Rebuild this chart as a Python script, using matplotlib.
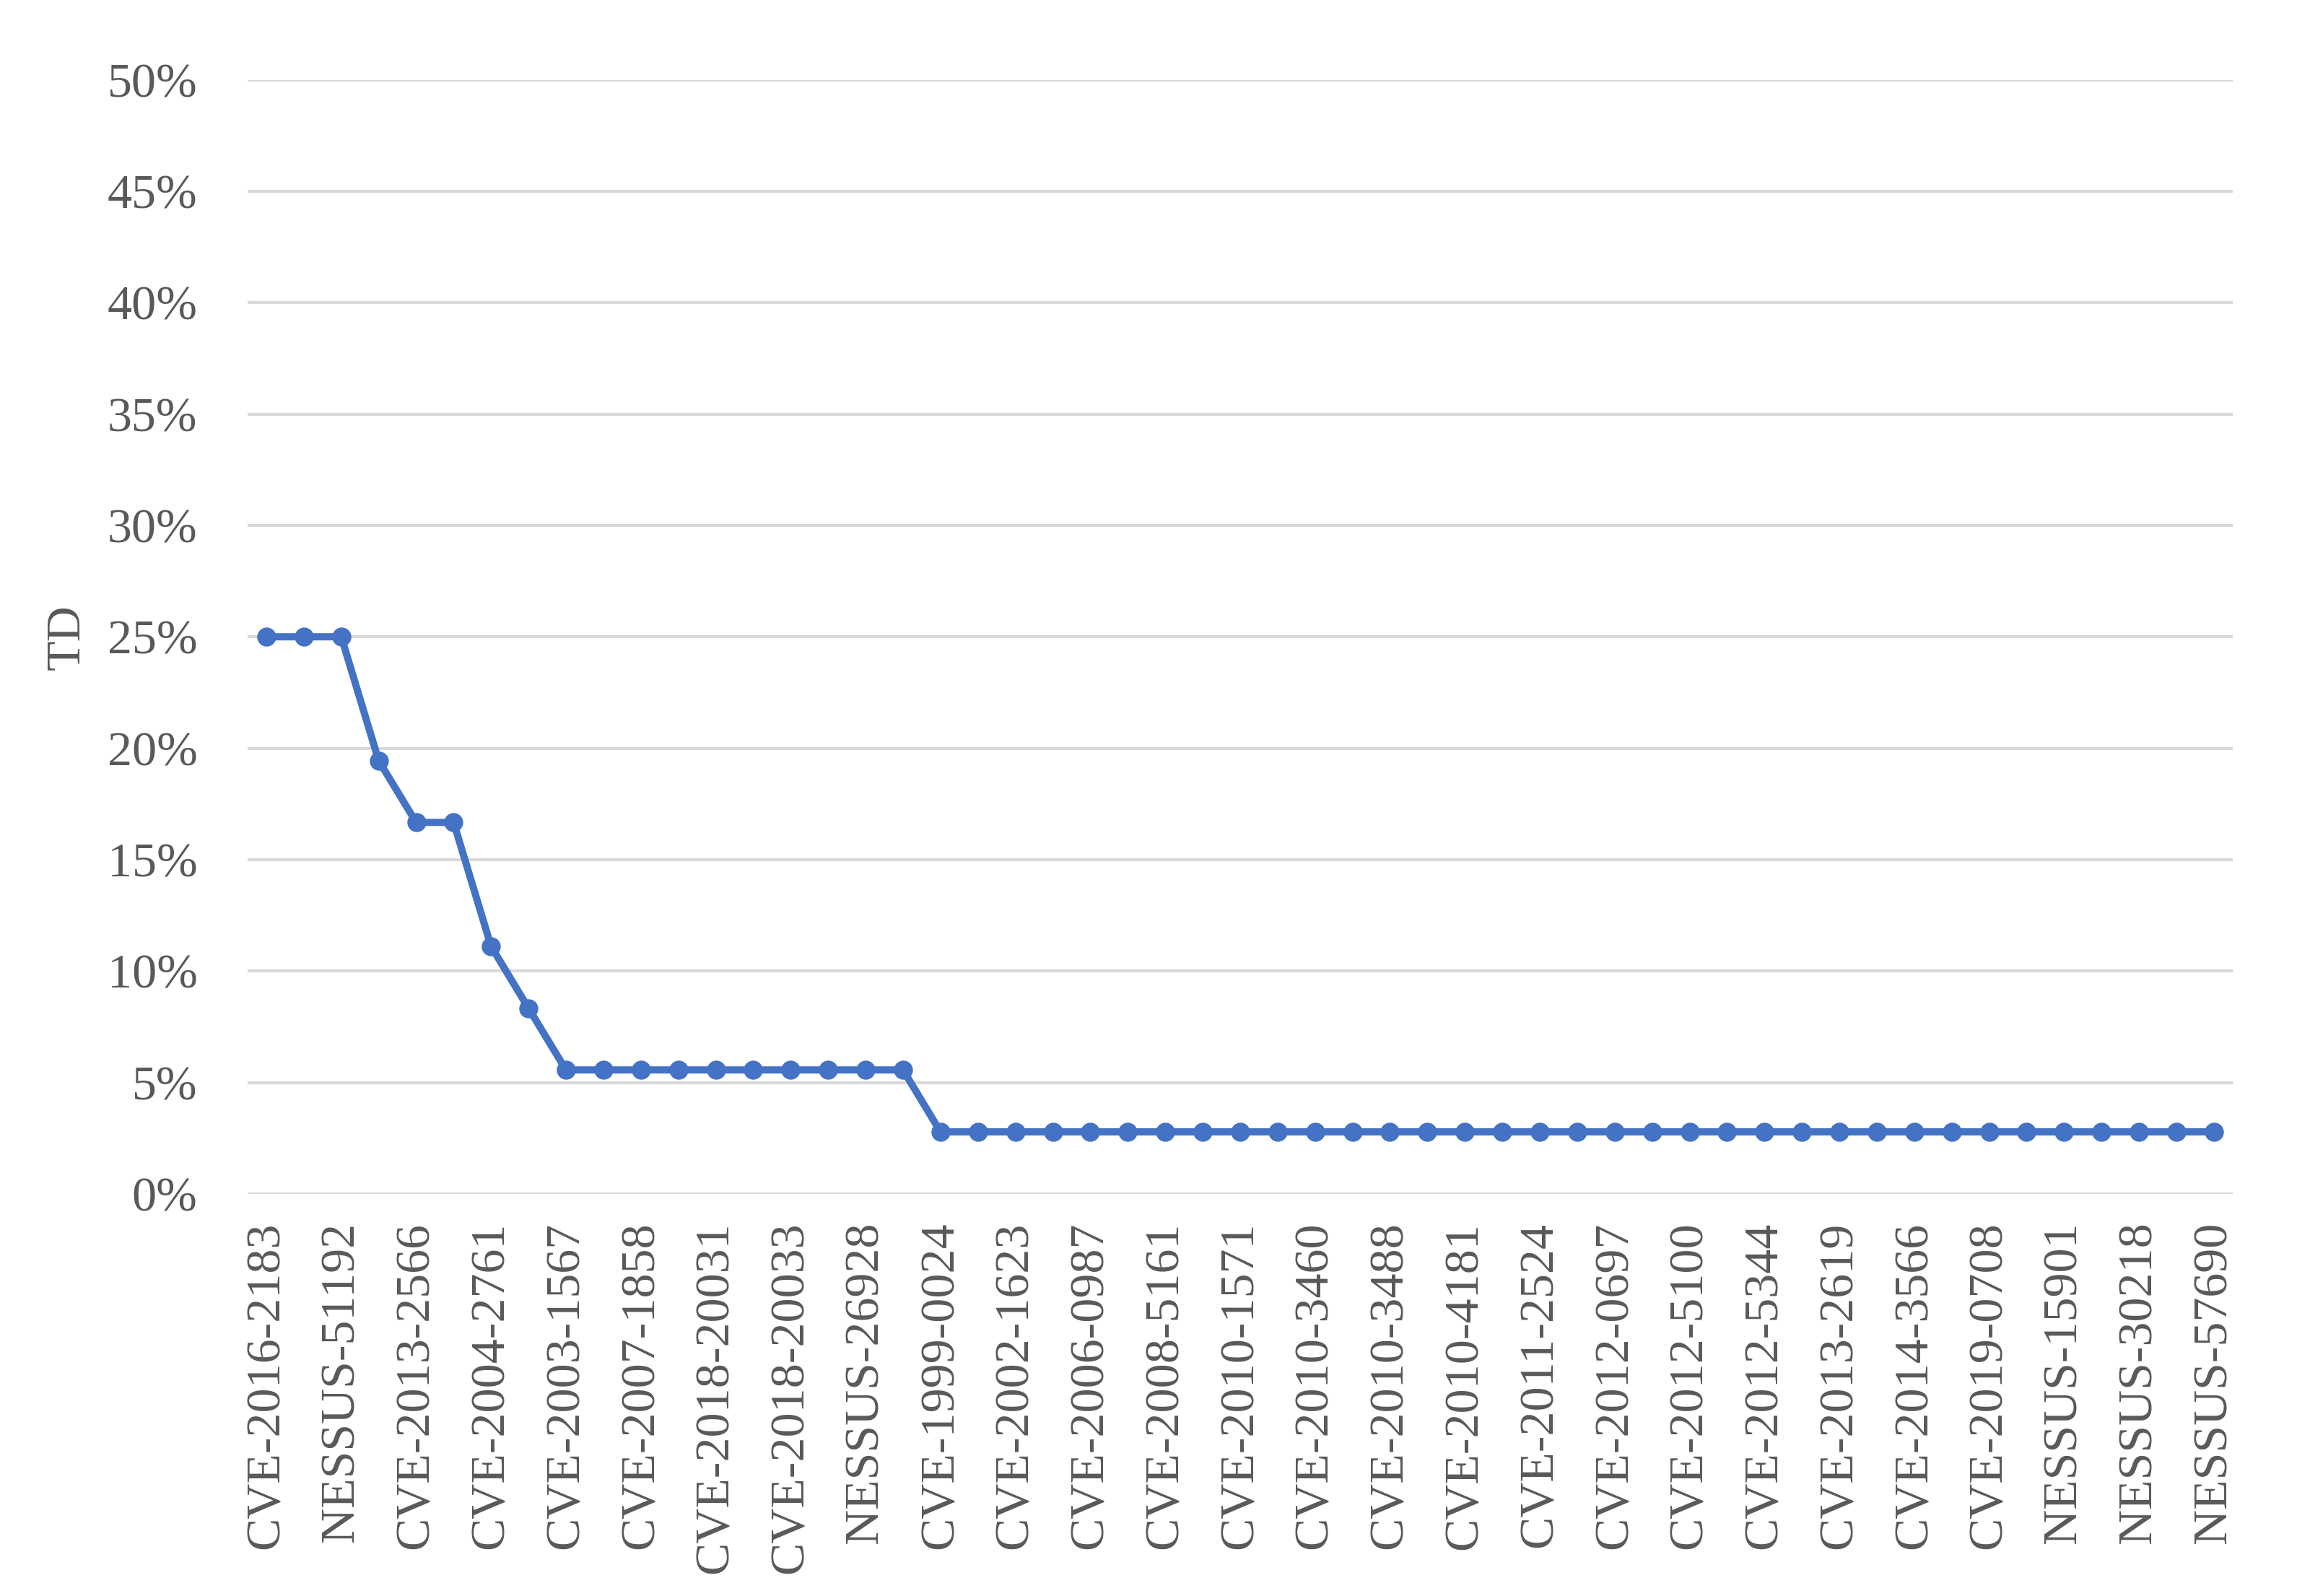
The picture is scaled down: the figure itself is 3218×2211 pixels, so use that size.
import matplotlib
matplotlib.use("Agg")
import matplotlib.pyplot as plt
from matplotlib.ticker import FuncFormatter

# Labelled categories (every other point carries a label in the reference)
labelled = ["CVE-2016-2183", "NESSUS-51192", "CVE-2013-2566", "CVE-2004-2761",
            "CVE-2003-1567", "CVE-2007-1858", "CVE-2018-20031", "CVE-2018-20033",
            "NESSUS-26928", "CVE-1999-0024", "CVE-2002-1623", "CVE-2006-0987",
            "CVE-2008-5161", "CVE-2010-1571", "CVE-2010-3460", "CVE-2010-3488",
            "CVE-2010-4181", "CVE-2011-2524", "CVE-2012-0697", "CVE-2012-5100",
            "CVE-2012-5344", "CVE-2013-2619", "CVE-2014-3566", "CVE-2019-0708",
            "NESSUS-15901", "NESSUS-30218", "NESSUS-57690"]

categories = []
for i, lab in enumerate(labelled):
    categories.append(lab)
    if i < len(labelled) - 1:
        categories.append("")

td = ([25.0, 25.0, 25.0, 19.44, 16.67, 16.67, 11.11, 8.33]
      + [5.56] * 10
      + [2.78] * 35)

yticks = [0, 5, 10, 15, 20, 25, 30, 35, 40, 45, 50]

text_color = "#595959"
plt.rcParams['font.family'] = ['Liberation Serif', 'DejaVu Serif']

fig = plt.figure(figsize=(16.09, 11.055), dpi=200)
ax = fig.add_axes([0.1066, 0.252, 0.8545, 0.698])

x = list(range(len(td)))
ax.plot(x, td, color="#4472C4", linewidth=3.6, marker="o", markersize=8.5,
        markerfacecolor="#4472C4", markeredgecolor="#4472C4", zorder=3,
        solid_joinstyle="round")

ax.set_xlim(-0.5, len(td) - 0.5)
ax.set_ylim(0, 50)
ax.set_yticks(yticks)
ax.yaxis.set_major_formatter(FuncFormatter(lambda v, p: f"{int(v)}%"))
ax.grid(axis="y", color="#D9D9D9", linewidth=1.5)
ax.set_axisbelow(True)

ax.set_xticks(x)
ax.set_xticklabels(categories, rotation=90, fontsize=24.5, color=text_color)
ax.tick_params(axis="x", length=0, pad=14)
ax.tick_params(axis="y", length=0, pad=25, labelsize=24.5, labelcolor=text_color)

for s in ax.spines.values():
    s.set_visible(False)

ax.set_ylabel("TD", fontsize=24.5, color=text_color, labelpad=9)

fig.savefig("out.png", dpi=200, facecolor="white")
